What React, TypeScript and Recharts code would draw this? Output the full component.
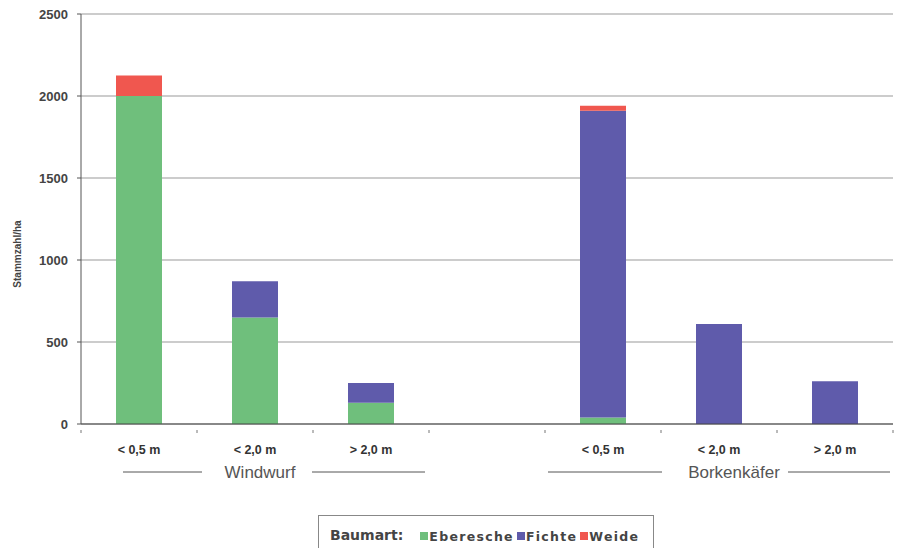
import { BarChart, Bar, XAxis, YAxis, CartesianGrid, Legend } from "recharts";

const categories = ["< 0,5 m", "< 2,0 m", "> 2,0 m", "", "< 0,5 m", "< 2,0 m", "> 2,0 m"];
const groups = ["Windwurf", "Windwurf", "Windwurf", "", "Borkenkäfer", "Borkenkäfer", "Borkenkäfer"];
const eberesche = [2000, 650, 130, 0, 40, 0, 0];
const fichte = [0, 220, 120, 0, 1870, 610, 260];
const weide = [125, 0, 0, 0, 30, 0, 0];
const yTicks = [0, 500, 1000, 1500, 2000, 2500];

const series = [
  { key: "Eberesche", color: "#6fbf7c" },
  { key: "Fichte", color: "#5f5bab" },
  { key: "Weide", color: "#f0574f" },
];

const data = categories.map((label, i) => ({
  label,
  group: groups[i],
  Eberesche: eberesche[i],
  Fichte: fichte[i],
  Weide: weide[i],
}));

const FONT = "'Liberation Sans', Arial, sans-serif";
const LEGEND_FONT = "'DejaVu Sans', Verdana, sans-serif";
const SLOT = 116;

function CategoryTick(props: any) {
  const { x, y, payload, index } = props;
  const group = groups[index];
  const isMiddle = group && groups[index - 1] === group && groups[index + 1] === group;
  const wide = group === "Borkenkäfer";
  const axisY = y - 2;
  return (
    <g>
      {index === 0 && (
        <line x1={x - SLOT / 2} x2={x - SLOT / 2} y1={axisY} y2={axisY + 3} stroke="#777" />
      )}
      <line x1={x + SLOT / 2} x2={x + SLOT / 2} y1={axisY} y2={axisY + 3} stroke="#777" />
      <text x={x} y={y + 22} textAnchor="middle" fontFamily={FONT} fontWeight="bold" fontSize={12.5} fill="#333">
        {payload.value}
      </text>
      {isMiddle && (
        <g>
          <line x1={x - (wide ? 171 : 132)} x2={x - (wide ? 57 : 53)} y1={y + 40} y2={y + 40} stroke="#555" strokeWidth={1} />
          <text x={x + (wide ? 15 : 5)} y={y + 46} textAnchor="middle" fontFamily={FONT} fontSize={17} fill="#555">
            {group}
          </text>
          <line x1={x + (wide ? 69 : 57)} x2={x + (wide ? 171 : 170)} y1={y + 40} y2={y + 40} stroke="#555" strokeWidth={1} />
        </g>
      )}
    </g>
  );
}

function LegendBox(props: any) {
  const { payload } = props;
  return (
    <div
      style={{
        border: "1px solid #888",
        height: 40,
        boxSizing: "border-box",
        display: "flex",
        alignItems: "flex-start",
        paddingTop: 11,
        paddingLeft: 11,
        fontFamily: LEGEND_FONT,
        fontWeight: "bold",
        color: "#444",
      }}
    >
      <span style={{ fontSize: 14, marginRight: 17 }}>Baumart:</span>
      {(payload || []).map((p: any) => (
        <span
          key={p.value}
          style={{ display: "flex", alignItems: "center", fontSize: 12.5, letterSpacing: 1.3, marginRight: 3, height: 18 }}
        >
          <span style={{ width: 8, height: 8, background: p.color, display: "inline-block", marginRight: 1 }} />
          {p.value}
        </span>
      ))}
    </div>
  );
}

export default function App() {
  return (
    <div style={{ position: "absolute", left: 0, top: 0, background: "#fff" }}>
      <BarChart width={900} height={548} data={data} margin={{ top: 14, right: 7, left: 0, bottom: 14 }}>
        <CartesianGrid vertical={false} stroke="#999" />
        <XAxis
          dataKey="label"
          height={70}
          interval={0}
          tickLine={false}
          axisLine={{ stroke: "#444" }}
          tick={<CategoryTick />}
        />
        <YAxis
          width={81}
          domain={[0, 2500]}
          ticks={yTicks}
          tickSize={4}
          tickMargin={9}
          axisLine={{ stroke: "#555" }}
          tickLine={{ stroke: "#555" }}
          tick={{ fontFamily: FONT, fontWeight: "bold", fontSize: 13, fill: "#444" }}
          label={() => (
            <text x={21} y={254} transform="rotate(-90 21 254)" textAnchor="middle" fontFamily={FONT} fontWeight="bold" fontSize={10} fill="#444">
              Stammzahl/ha
            </text>
          )}
        />
        <Legend
          content={<LegendBox />}
          wrapperStyle={{ position: "absolute", top: 515, left: 318, width: 336, height: 40 }}
        />
        {series.map((s) => (
          <Bar key={s.key} dataKey={s.key} stackId="a" fill={s.color} barSize={46} isAnimationActive={false} />
        ))}
      </BarChart>
    </div>
  );
}
